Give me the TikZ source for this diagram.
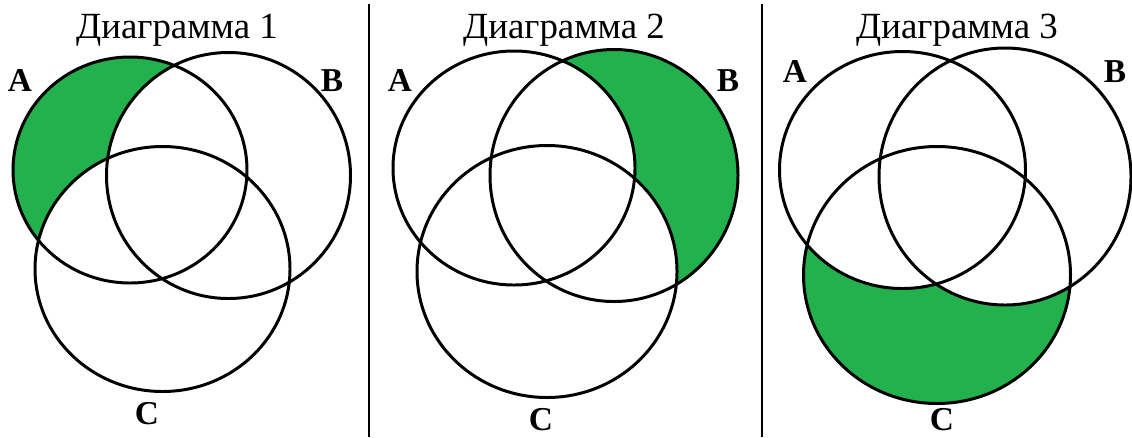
\documentclass[tikz,border=0pt]{standalone}
\usepackage{fontspec}
\setmainfont{Liberation Serif}
\definecolor{setgreen}{RGB}{34,177,76}
\tikzset{
  setline/.style={line width=1.7pt},
  sepline/.style={line width=1.2pt},
  title/.style={font=\fontsize{21}{25}\selectfont, inner sep=0pt, anchor=base},
  setname/.style={font=\fontsize{19}{22}\selectfont\bfseries, inner sep=0pt, anchor=base},
}
\begin{document}
\begin{tikzpicture}[x=0.02cm, y=-0.02cm]
\useasboundingbox (0,0) rectangle (1132,437);
% Separators
\draw[sepline] (369,4) -- (369,437);
\draw[sepline] (762,4) -- (762,437);

% Diagram 1: only A
\fill[setgreen] (130,170) ellipse [x radius=117, y radius=113];
\fill[white] (228.5,175.5) ellipse [x radius=122, y radius=123];
\fill[white] (162.5,269) ellipse [x radius=127.5, y radius=122.5];
\draw[setline] (130,170) ellipse [x radius=117, y radius=113];
\draw[setline] (228.5,175.5) ellipse [x radius=122, y radius=123];
\draw[setline] (162.5,269) ellipse [x radius=127.5, y radius=122.5];
\node[title] (title1) at (177,38) {Диаграмма 1};
\node[setname] (labA1) at (20,91) {A};
\node[setname] (labB1) at (332,91) {B};
\node[setname] (labC1) at (147,424) {C};

% Diagram 2: only B
\fill[setgreen] (614,175.5) ellipse [x radius=124, y radius=126];
\fill[white] (514,168) ellipse [x radius=121, y radius=117];
\fill[white] (547,271.5) ellipse [x radius=130, y radius=126];
\draw[setline] (514,168) ellipse [x radius=121, y radius=117];
\draw[setline] (614,175.5) ellipse [x radius=124, y radius=126];
\draw[setline] (547,271.5) ellipse [x radius=130, y radius=126];
\node[title] (title2) at (564,38) {Диаграмма 2};
\node[setname] (labA2) at (400,91) {A};
\node[setname] (labB2) at (728,91) {B};
\node[setname] (labC2) at (541,430) {C};

% Diagram 3: only C
\fill[setgreen] (937,275) ellipse [x radius=133.5, y radius=128.5];
\fill[white] (902.5,170) ellipse [x radius=123, y radius=118.5];
\fill[white] (1005,176.5) ellipse [x radius=126, y radius=128.5];
\draw[setline] (902.5,170) ellipse [x radius=123, y radius=118.5];
\draw[setline] (1005,176.5) ellipse [x radius=126, y radius=128.5];
\draw[setline] (937,275) ellipse [x radius=133.5, y radius=128.5];
\node[title] (title3) at (957,38) {Диаграмма 3};
\node[setname] (labA3) at (795,82) {A};
\node[setname] (labB3) at (1115,82) {B};
\node[setname] (labC3) at (942,430) {C};
\end{tikzpicture}
\end{document}
